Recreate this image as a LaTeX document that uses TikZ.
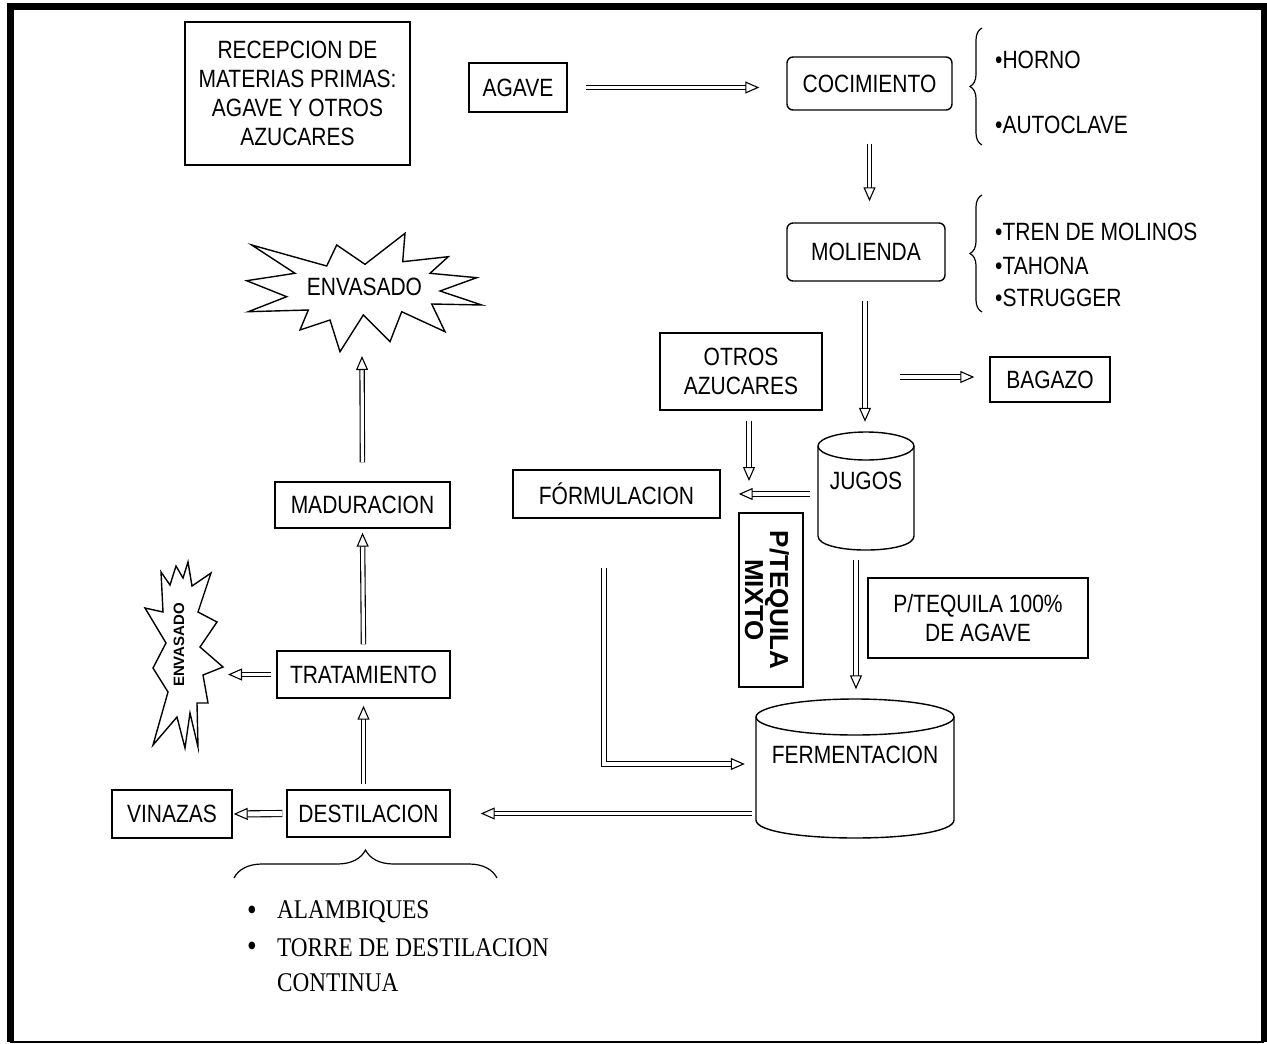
\documentclass[tikz,border=0pt]{standalone}
\usepackage{fontspec}
\setmainfont{Liberation Sans}[FakeStretch=0.84]
\newfontfamily\boldwide{Liberation Sans}
\newfontfamily\listfont{Liberation Serif}[FakeStretch=0.86]
\usetikzlibrary{arrows.meta,decorations.pathreplacing,calc}
\begin{document}
\begin{tikzpicture}[x=1pt,y=-1pt,
  box/.style={draw, line width=1.4pt, inner sep=0pt, align=center, font=\fontsize{25}{29}\selectfont},
  rbox/.style={box, rounded corners=6pt},
  hol/.style={double, line width=1.1pt, double distance=3.2pt, -{Triangle[open, length=14pt, width=12pt]}},
  lbl/.style={inner sep=0pt, anchor=west, font=\fontsize{25}{29}\selectfont},
  lst/.style={inner sep=0pt, anchor=west, font=\listfont\fontsize{27}{32}\selectfont},
  bul/.style={inner sep=0pt, font=\listfont\fontsize{32}{32}\selectfont},
  outline/.style={line width=1.4pt}]
\useasboundingbox (0,0) rectangle (1267,1044);
% frame
\draw[line width=7pt] (10,1042) -- (10,6.5) -- (1264,6.5) -- (1264,1042);
\draw[line width=1.5pt] (10,1042) -- (1264,1042);

% boxes
\node[box, minimum width=225pt, minimum height=143pt] (recep) at (297.5,93.5) {RECEPCION DE\\MATERIAS PRIMAS:\\AGAVE Y OTROS\\AZUCARES};
\node[box, minimum width=98pt, minimum height=49pt] (agave) at (518,87.5) {AGAVE};
\node[rbox, minimum width=165pt, minimum height=53pt] (cocimiento) at (869.5,83.5) {COCIMIENTO};
\node[rbox, minimum width=158pt, minimum height=58pt] (molienda) at (866,252) {MOLIENDA};
\node[box, minimum width=120pt, minimum height=45pt] (bagazo) at (1050,379.5) {BAGAZO};
\node[box, minimum width=162pt, minimum height=77pt] (otros) at (741,371.5) {OTROS\\AZUCARES};
\node[box, minimum width=207pt, minimum height=48pt] (formulacion) at (616.5,494) {FÓRMULACION};
\node[draw, line width=1.4pt, inner sep=0pt, minimum width=64pt, minimum height=174pt] (mixto) at (771,600) {};
\node[inner sep=0pt, rotate=-90, align=center, font=\boldwide\bfseries\fontsize{26}{25}\selectfont] (mixtotext) at ([xshift=-4pt]mixto.center) {P/TEQUILA\\MIXTO};
\node[box, minimum width=220pt, minimum height=80pt] (tequila) at (978,618) {P/TEQUILA 100\%\\DE AGAVE};
\node[box, minimum width=163pt, minimum height=47pt] (destilacion) at (368.5,813.5) {DESTILACION};
\node[box, minimum width=120pt, minimum height=48pt] (vinazas) at (172,814) {VINAZAS};
\node[box, minimum width=173pt, minimum height=47pt] (tratamiento) at (363.5,674.5) {TRATAMIENTO};
\node[box, minimum width=175pt, minimum height=46pt] (maduracion) at (362.5,505) {MADURACION};

% cylinders
\draw[outline] (866,446) ellipse [x radius=48, y radius=14];
\draw[outline] (818,446) -- (818,536) .. controls (818,554.7) and (914,554.7) .. (914,536) -- (914,446);
\node[inner sep=0pt, minimum width=96pt, minimum height=118pt] (jugos) at (866,491) {};
\node[inner sep=0pt, font=\fontsize{25}{29}\selectfont] (jugostext) at (866,481) {JUGOS};
\draw[outline] (855,717) ellipse [x radius=99, y radius=18];
\draw[outline] (756,717) -- (756,820) .. controls (756,844) and (954,844) .. (954,820) -- (954,717);
\node[inner sep=0pt, minimum width=198pt, minimum height=140pt] (ferm) at (855,768.5) {};
\node[inner sep=0pt, font=\fontsize{25}{29}\selectfont] (fermtext) at (855,755) {FERMENTACION};

% starbursts
\draw[outline] (251.7,245) -- (326.7,266) -- (336.7,245) -- (365,264.3) -- (405,233.3) -- (402.7,261.7) -- (448.3,256.7) -- (430,273.3) -- (476.7,277.7) -- (440,291) -- (481.7,305) -- (431.7,304) -- (445,331.7) -- (401.7,311.7) -- (390,341.7) -- (363.3,315) -- (340,351.7) -- (330,320) -- (300,330) -- (308.3,310) -- (248.3,311.7) -- (286.7,296.7) -- (246.7,280.7) -- (295,273.3) -- cycle;
\node[inner sep=0pt, font=\fontsize{25}{29}\selectfont] (envbig) at (364.5,287) {ENVASADO};
\draw[outline] (176,566) -- (183,578) -- (188,562) -- (192,586) -- (211,573) -- (198,612) -- (217,622) -- (200,647) -- (223,667) -- (203,675) -- (208,703) -- (197,703) -- (198,747) -- (190,713) -- (185,748) -- (177,717) -- (153,745) -- (168,692) -- (153,668) -- (166,643) -- (145,608) -- (163,612) -- (161,572) -- (170,585) -- cycle;
\node[inner sep=0pt, rotate=90, font=\boldwide\bfseries\fontsize{15}{17}\selectfont] (envsmall) at (179,645) {ENVASADO};

% coordinates for free ends
\coordinate (bg0) at (900,377);
\coordinate (ot1) at (749,481);
\coordinate (L0) at (604,568);
\coordinate (es1) at (228,676);
\coordinate (eb) at (362,356);

% arrows
\draw[hol, shorten <=18pt, shorten >=27pt] (agave.east) -- (agave.east -| cocimiento.west);
\draw[hol, shorten <=33pt, shorten >=21pt] (cocimiento.south) -- (cocimiento.south |- molienda.north);
\draw[hol, shorten <=19pt, shorten >=10pt] ([xshift=-1pt]molienda.south) -- ([xshift=-1pt]molienda.south |- jugos.north);
\draw[hol, shorten >=15pt] (bg0) -- (bg0 -| bagazo.west);
\draw[hol, shorten <=10pt] (ot1 |- otros.south) -- (ot1);
\draw[hol, shorten <=8pt, shorten >=18pt] (jugos.west |- formulacion.east) -- (formulacion.east);
\draw[hol, shorten <=10pt, shorten >=9pt] ([xshift=-10pt]jugos.south) -- ([xshift=-10pt]jugos.south |- ferm.north);
\draw[hol, shorten >=11pt] (L0) |- ([yshift=4.5pt]ferm.west);
\draw[hol, shorten <=4pt, shorten >=30pt] (ferm.west |- destilacion.east) -- (destilacion.east);
\draw[hol, double distance=5pt, shorten <=4pt, shorten >=1pt] (destilacion.west) -- (vinazas.east);
\draw[hol, shorten <=5pt, shorten >=7pt] (tratamiento.south |- destilacion.north) -- (tratamiento.south);
\draw[hol, shorten <=5pt] (tratamiento.west) -- (es1 |- tratamiento.west);
\draw[hol, shorten <=6pt, shorten >=4pt] (tratamiento.north) -- (maduracion.south);
\draw[hol, shorten <=19pt] (maduracion.north) -- (eb);

% braces
\draw[line width=1.2pt, decorate, decoration={brace, amplitude=12pt}] (982,145) -- (982,28);
\draw[line width=1.2pt, decorate, decoration={brace, amplitude=12pt}] (982,312) -- (982,195);
\draw[line width=1.2pt, decorate, decoration={brace, amplitude=28pt}] (234,878) -- (497,878);

% side lists
\node[lbl] (horno) at (995,60) {•HORNO};
\node[lbl] (autoclave) at (995,125) {•AUTOCLAVE};
\node[lbl] (tren) at (995,232) {•TREN DE MOLINOS};
\node[lbl] (tahona) at (995,266) {•TAHONA};
\node[lbl] (strugger) at (995,298) {•STRUGGER};

% bottom list
\node[bul] (b1) at (252,913) {\textbullet};
\node[bul] (b2) at (252,949) {\textbullet};
\node[lst] (alamb) at (277,912) {ALAMBIQUES};
\node[lst] (torre) at (277,948) {TORRE DE DESTILACION};
\node[lst] (continua) at (277,983) {CONTINUA};
\end{tikzpicture}
\end{document}
